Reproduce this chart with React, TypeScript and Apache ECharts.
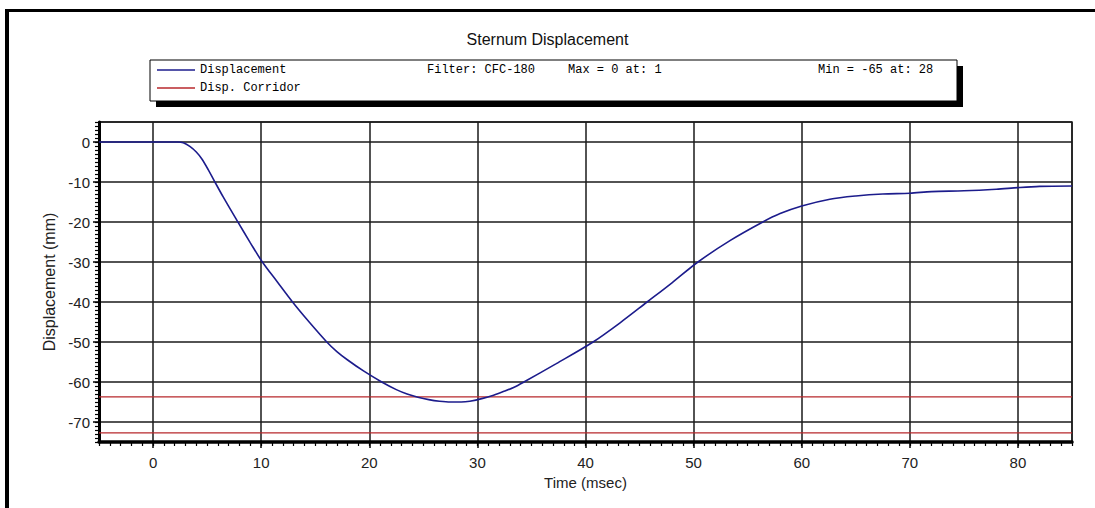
import React, { useEffect, useRef } from 'react';
import * as echarts from 'echarts';

const timeMs = [
  -5, 2.3, 2.8, 3.4, 4, 4.5, 5.1, 5.64, 6.5, 7.8, 9, 10.06, 11.5, 12.9, 14.5, 16.07, 17, 18,
  19.5, 21.15, 22.5, 23.5, 24.5, 25.5, 26.5, 27.5, 28.5, 29.3, 30.5, 31.5, 32.4, 33.4, 34.3,
  37.3, 40.7, 43.2, 45.7, 48, 50.4, 53.4, 56.4, 58, 60, 62.6, 65, 67.5, 70, 72, 75, 78, 80, 82, 85,
];
const displacementMm = [
  0, 0, -0.2, -1.1, -2.5, -4.2, -6.9, -9.6, -13.8, -19.8, -25.2, -29.8, -35, -40, -45.2, -50,
  -52.4, -54.5, -57.3, -60, -61.9, -63, -63.8, -64.4, -64.8, -65, -65, -64.8, -64.1, -63.3,
  -62.4, -61.3, -60, -55.4, -50, -45.2, -40, -35.2, -30, -24.6, -20, -17.9, -16, -14.3, -13.5,
  -13, -12.8, -12.4, -12.2, -11.8, -11.4, -11.1, -11,
];
const corridorLevels = [-63.7, -72.7];
const xRange = [-5, 85];
const yRange = [-75, 5];
const titleText = 'Sternum Displacement';
const seriesNames = ['Displacement', 'Disp. Corridor'];
const infoTexts = ['Filter: CFC-180', 'Max = 0 at: 1', 'Min = -65 at: 28'];
const xAxisName = 'Time (msec)';
const yAxisName = 'Displacement (mm)';

const sans = "'Liberation Sans', Arial, sans-serif";
const mono = "'Liberation Mono', 'DejaVu Sans Mono', monospace";

export default function App() {
  const ref = useRef<HTMLDivElement>(null);
  useEffect(() => {
    if (!ref.current) return;
    const chart = echarts.init(ref.current, undefined, { renderer: 'svg' });
    const dispData = timeMs.map((t, i) => [t, displacementMm[i]]);
    const corridorData: any[] = [];
    corridorLevels.forEach((lv, i) => {
      if (i > 0) corridorData.push(['-', '-']);
      corridorData.push([xRange[0], lv]);
      corridorData.push([xRange[1], lv]);
    });
    const labelFmt = (v: number) => (v % 10 === 0 ? String(v) : '');
    const infoX = [427, 568, 818];
    chart.setOption({
      animation: false,
      backgroundColor: '#ffffff',
      title: {
        text: titleText,
        left: 'center',
        top: 26,
        textStyle: { fontFamily: sans, fontSize: 16, fontWeight: 'normal', color: '#111' },
      },
      legend: {
        orient: 'vertical',
        left: 157,
        top: 64,
        padding: 0,
        itemWidth: 38,
        itemHeight: 1.5,
        itemGap: 6,
        icon: 'rect',
        selectedMode: false,
        data: seriesNames,
        textStyle: { fontFamily: mono, fontSize: 12, color: '#000' },
        z: 5,
      },
      graphic: [
        { type: 'rect', shape: { x: 5, y: 9, width: 4, height: 499 }, style: { fill: '#000' }, z: 1 },
        { type: 'rect', shape: { x: 5, y: 9, width: 1090, height: 3 }, style: { fill: '#000' }, z: 1 },
        { type: 'rect', shape: { x: 156, y: 66, width: 807, height: 41 }, style: { fill: '#000' }, z: 1 },
        {
          type: 'rect',
          shape: { x: 150, y: 60, width: 807, height: 41 },
          style: { fill: '#fff', stroke: '#000', lineWidth: 1 },
          z: 2,
        },
        ...infoTexts.map((t, i) => ({
          type: 'text',
          x: infoX[i],
          y: 70,
          z: 3,
          style: { text: t, font: `12px ${mono}`, fill: '#000', textVerticalAlign: 'middle' },
        })),
      ],
      grid: {
        left: 99,
        top: 122,
        width: 973,
        height: 320,
        show: true,
        borderColor: '#222',
        borderWidth: 1.5,
        backgroundColor: 'transparent',
      },
      xAxis: [
        {
          type: 'value',
          min: xRange[0],
          max: xRange[1],
          splitNumber: 9,
          position: 'bottom',
          name: xAxisName,
          nameLocation: 'middle',
          nameGap: 31,
          nameTextStyle: { fontFamily: sans, fontSize: 15, color: '#222' },
          axisLine: { show: true, onZero: false, lineStyle: { color: '#000', width: 3.5 } },
          axisTick: { show: true, length: 6, lineStyle: { color: '#000', width: 1.5 } },
          axisLabel: {
            margin: 13,
            fontFamily: sans,
            fontSize: 15,
            color: '#222',
            showMinLabel: false,
            showMaxLabel: false,
            formatter: labelFmt,
          },
          splitLine: { show: true, lineStyle: { color: '#1a1a1a', width: 1.5 } },
        },
        {
          type: 'value',
          min: xRange[0],
          max: xRange[1],
          interval: 1,
          position: 'bottom',
          axisLine: { show: false, onZero: false },
          axisTick: { show: true, length: 4, lineStyle: { color: '#000', width: 1.2 } },
          axisLabel: { show: false },
          splitLine: { show: false },
        },
      ],
      yAxis: [
        {
          type: 'value',
          min: yRange[0],
          max: yRange[1],
          splitNumber: 8,
          position: 'left',
          name: yAxisName,
          nameLocation: 'middle',
          nameGap: 40,
          nameTextStyle: { fontFamily: sans, fontSize: 16, color: '#222' },
          axisLine: { show: true, onZero: false, lineStyle: { color: '#000', width: 3 } },
          axisTick: { show: true, length: 6, lineStyle: { color: '#000', width: 1.5 } },
          axisLabel: {
            margin: 9,
            fontFamily: sans,
            fontSize: 15,
            color: '#222',
            showMinLabel: false,
            showMaxLabel: false,
            formatter: labelFmt,
          },
          splitLine: { show: true, lineStyle: { color: '#1a1a1a', width: 1.5 } },
        },
        {
          type: 'value',
          min: yRange[0],
          max: yRange[1],
          interval: 1,
          position: 'left',
          axisLine: { show: false, onZero: false },
          axisTick: { show: true, length: 4, lineStyle: { color: '#000', width: 1.2 } },
          axisLabel: { show: false },
          splitLine: { show: false },
        },
      ],
      series: [
        {
          name: seriesNames[0],
          type: 'line',
          xAxisIndex: 0,
          yAxisIndex: 0,
          data: dispData,
          showSymbol: false,
          symbol: 'none',
          smooth: 0.3,
          lineStyle: { color: '#1c1c8c', width: 1.6 },
          itemStyle: { color: '#1c1c8c' },
          z: 3,
        },
        {
          name: seriesNames[1],
          type: 'line',
          xAxisIndex: 0,
          yAxisIndex: 0,
          data: corridorData,
          showSymbol: false,
          symbol: 'none',
          connectNulls: false,
          lineStyle: { color: '#b8282d', width: 1.2 },
          itemStyle: { color: '#b8282d' },
          z: 2,
        },
      ],
    });
    return () => chart.dispose();
  }, []);
  return (
    <div
      ref={ref}
      style={{ position: 'absolute', left: 0, top: 0, width: 1095, height: 508, background: '#fff' }}
    />
  );
}
